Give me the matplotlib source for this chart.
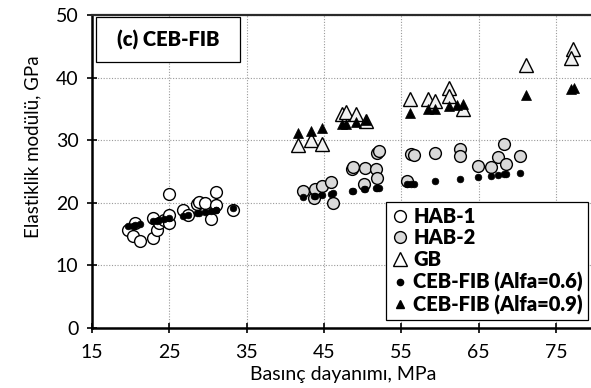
import matplotlib
matplotlib.use("Agg")
import matplotlib.pyplot as plt
from matplotlib.lines import Line2D
from matplotlib.patches import Rectangle

# Compressive strength (MPa) and measured elastic modulus (GPa)
hab1_x = [19.7, 20.3, 20.6, 21.3, 22.9, 22.9, 23.4, 23.7, 24.4, 25.0, 25.0, 25.0,
          26.8, 27.5, 28.6, 28.8, 29.6, 30.4, 31.0, 31.1, 33.2]
hab1_y = [15.7, 14.6, 16.7, 13.8, 14.3, 17.5, 15.7, 16.7, 17.3, 16.8, 18.0, 21.3,
          18.8, 18.1, 19.8, 20.1, 19.9, 17.4, 21.7, 19.6, 18.8]

hab2_x = [42.3, 43.7, 43.9, 44.7, 45.9, 46.2, 48.6, 48.8, 50.3, 51.7, 51.9, 50.2,
          51.9, 52.1, 55.7, 56.3, 56.6, 59.4, 62.6, 62.6, 64.9, 66.6, 67.5, 68.3,
          68.5, 70.3]
hab2_y = [21.9, 20.8, 22.2, 22.6, 23.3, 19.9, 25.4, 25.7, 25.5, 25.3, 24.0, 23.0,
          28.0, 28.3, 23.5, 27.8, 27.6, 28.0, 28.6, 27.5, 25.8, 25.7, 27.3, 29.4,
          26.1, 27.5]

gb_x = [41.6, 43.3, 44.7, 47.3, 47.9, 49.1, 50.5, 56.1, 58.5, 59.3, 61.2, 61.2,
        63.0, 71.1, 77.2, 76.9]
gb_y = [29.2, 30.0, 29.4, 34.2, 34.5, 34.2, 33.0, 36.5, 36.6, 36.3, 38.3, 37.0,
        35.0, 42.0, 44.6, 43.1]

# CEB-FIB predictions
ceb06_x = [19.7, 20.3, 20.6, 21.3, 22.9, 23.4, 23.7, 24.4, 25.0, 26.8, 27.5, 28.6,
           28.8, 29.6, 30.4, 31.0, 31.1, 33.2,
           42.3, 43.7, 43.9, 44.7, 45.9, 46.2, 48.6, 48.8, 50.2, 50.3, 51.7, 51.9,
           52.1, 55.7, 56.3, 56.6, 59.4, 62.6, 64.9, 66.6, 67.5, 68.3, 68.5, 70.3]
ceb06_y = [16.2, 16.3, 16.4, 16.6, 17.0, 17.1, 17.2, 17.4, 17.5, 17.9, 18.1, 18.3,
           18.4, 18.5, 18.7, 18.8, 18.8, 19.2,
           20.9, 21.1, 21.1, 21.2, 21.4, 21.5, 21.8, 21.9, 22.1, 22.1, 22.3, 22.3,
           22.4, 22.9, 22.9, 23.0, 23.4, 23.8, 24.1, 24.3, 24.4, 24.5, 24.5, 24.7]

ceb09_x = [41.6, 43.3, 44.7, 47.3, 47.9, 49.1, 50.5, 56.1, 58.5, 59.3, 61.2, 62.2,
           63.0, 71.1, 76.9, 77.3]
ceb09_y = [31.1, 31.5, 31.9, 32.5, 32.6, 32.9, 33.2, 34.4, 34.9, 35.0, 35.4, 35.6,
           35.7, 37.2, 38.2, 38.3]

x_ticks = [15, 25, 35, 45, 55, 65, 75]
y_ticks = [0, 10, 20, 30, 40, 50]

plt.rcParams["font.family"] = ["Lato", "DejaVu Sans"]

W, H = 591, 388
fig = plt.figure(figsize=(W / 100, H / 100), dpi=100)
left_px, right_px, top_px, bottom_px = 91.7, 594.8, 15.0, 327.7
ax = fig.add_axes([left_px / W, 1 - bottom_px / H,
                   (right_px - left_px) / W, (bottom_px - top_px) / H])

ax.set_xlim(15, 80)
ax.set_ylim(0, 50)
ax.set_xticks(x_ticks)
ax.set_yticks(y_ticks)
ax.tick_params(labelsize=14, direction="inout", length=7, width=1.2, color="black")
ax.tick_params(axis="x", pad=8)
ax.tick_params(axis="y", pad=6)
ax.grid(True, color="#9a9a9a", linestyle=(0, (1, 1.5)), linewidth=0.8)
ax.set_axisbelow(True)

for side in ("left", "bottom"):
    ax.spines[side].set_linewidth(1.8)
    ax.spines[side].set_color("black")
ax.spines["top"].set_linewidth(1.6)
ax.spines["top"].set_color("#2a2a2a")
ax.spines["right"].set_visible(False)

ax.plot(hab1_x, hab1_y, "o", ls="none", ms=8.5, mfc="white", mec="black", mew=1.0,
        zorder=3)
ax.plot(hab2_x, hab2_y, "o", ls="none", ms=8.5, mfc="#d9d9d9", mec="black", mew=1.0,
        zorder=3)
ax.plot(gb_x, gb_y, "^", ls="none", ms=9.5, mfc="#f2f2f2", mec="black", mew=1.0,
        zorder=3)
ax.plot(ceb06_x, ceb06_y, "o", ls="none", ms=4.8, mfc="black", mec="black", mew=0.5,
        zorder=4)
ax.plot(ceb09_x, ceb09_y, "^", ls="none", ms=6.5, mfc="black", mec="black", mew=0.5,
        zorder=4)

ax.set_xlabel("Basınç dayanımı, MPa", fontsize=14, labelpad=3.5)
fig.text(33 / W, 1 - 147 / H, "Elastiklik modülü, GPa", fontsize=13.5,
         rotation=90, ha="center", va="center")

handles = [
    Line2D([], [], marker="o", ls="none", ms=8.5, mfc="white", mec="black", mew=1.0),
    Line2D([], [], marker="o", ls="none", ms=8.5, mfc="#d9d9d9", mec="black", mew=1.0),
    Line2D([], [], marker="^", ls="none", ms=9.5, mfc="white", mec="black", mew=1.0),
    Line2D([], [], marker="o", ls="none", ms=4.5, mfc="black", mec="black"),
    Line2D([], [], marker="^", ls="none", ms=6, mfc="black", mec="black"),
]
labels = ["HAB-1", "HAB-2", "GB", "CEB-FIB (Alfa=0.6)", "CEB-FIB (Alfa=0.9)"]
leg = fig.legend(handles, labels, loc="lower right",
                 bbox_to_anchor=(588 / W, 1 - 320 / H),
                 prop={"weight": "heavy", "size": 14.5}, frameon=True, fancybox=False,
                 edgecolor="black", framealpha=1, borderpad=0.25, labelspacing=0.14,
                 handlelength=0.9, handletextpad=0.2, borderaxespad=0)
leg.get_frame().set_linewidth(0.9)

fig.patches.append(Rectangle((96 / W, 1 - 61.7 / H), 144 / W, 44.4 / H,
                             transform=fig.transFigure, facecolor="white",
                             edgecolor="black", linewidth=0.9, zorder=5))
fig.text(168 / W, 1 - 40 / H, "(c) CEB-FIB", fontsize=14.5, fontweight="heavy",
         ha="center", va="center", zorder=6)

fig.savefig("out.png", dpi=100)
